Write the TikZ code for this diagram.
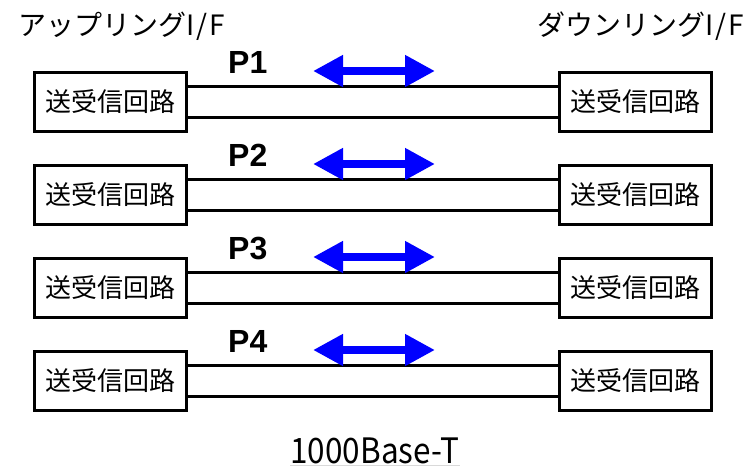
\documentclass[tikz,border=0pt]{standalone}
\usepackage{fontspec}
\setmainfont{Noto Sans CJK JP}
\newfontfamily\plabelfont{Liberation Sans}
\usepackage{tikz}
\usetikzlibrary{arrows.meta}

\begin{document}
\begin{tikzpicture}[
		x=1pt, y=-1pt,
		CircuitBox/.style={draw=black, line width=3pt, fill=white, minimum width=152pt, minimum height=59pt, inner sep=0pt, font=\fontsize{26}{30}\selectfont},
		PairLine/.style={draw=black, line width=3pt},
		PairLabel/.style={anchor=base west, inner sep=0pt, font=\plabelfont\bfseries\fontsize{32}{36}\selectfont},
		BothWays/.style={draw=blue, line width=8pt, {Triangle[length=30pt, width=30pt]}-{Triangle[length=30pt, width=30pt]}},
		SideTitle/.style={inner sep=0pt, font=\fontsize{28}{32}\selectfont}
		]
		\useasboundingbox (0,0) rectangle (753,466);
		
		% interface names
		\node[SideTitle, anchor=base west] (up) at (18,35) {アップリングI\kern2pt/\kern2pt F};
		\node[SideTitle, anchor=base east] (down) at (744,35) {ダウンリングI\kern2pt/\kern2pt F};
		
		% one pair per row: both circuits, the two wires and the direction arrow
		\foreach \i in {1,...,4} {
			\pgfmathsetmacro{\Yc}{101.5+93*(\i-1)}
			\node[CircuitBox] (L\i) at (110.5,\Yc) {送受信回路};
			\node[CircuitBox] (R\i) at (635.5,\Yc) {送受信回路};
			
			\draw[PairLine] ([yshift=15.5pt]L\i.east) -- ([yshift=15.5pt]R\i.west);
			\draw[PairLine] ([yshift=-15.5pt]L\i.east) -- ([yshift=-15.5pt]R\i.west);
			
			\node[PairLabel] (P\i) at (228,\Yc-28.5) {P\i};
			
			\coordinate (aL\i) at (313,\Yc-30.5);
			\coordinate (aR\i) at (435,\Yc-30.5);
			\draw[BothWays] (aL\i) -- (aR\i);
		}
		
		% standard name, underlined
		\node[anchor=base, inner sep=0pt, xscale=0.9, font=\fontsize{35}{40}\selectfont] (std) at (375,463) {1000Base-T};
		\draw[gray!30, line width=1pt] ([yshift=-2pt]std.base west) -- ([yshift=-2pt]std.base east);
		
		%\draw[red] (0,0) rectangle (753,466);
		
\end{tikzpicture}
\end{document}
